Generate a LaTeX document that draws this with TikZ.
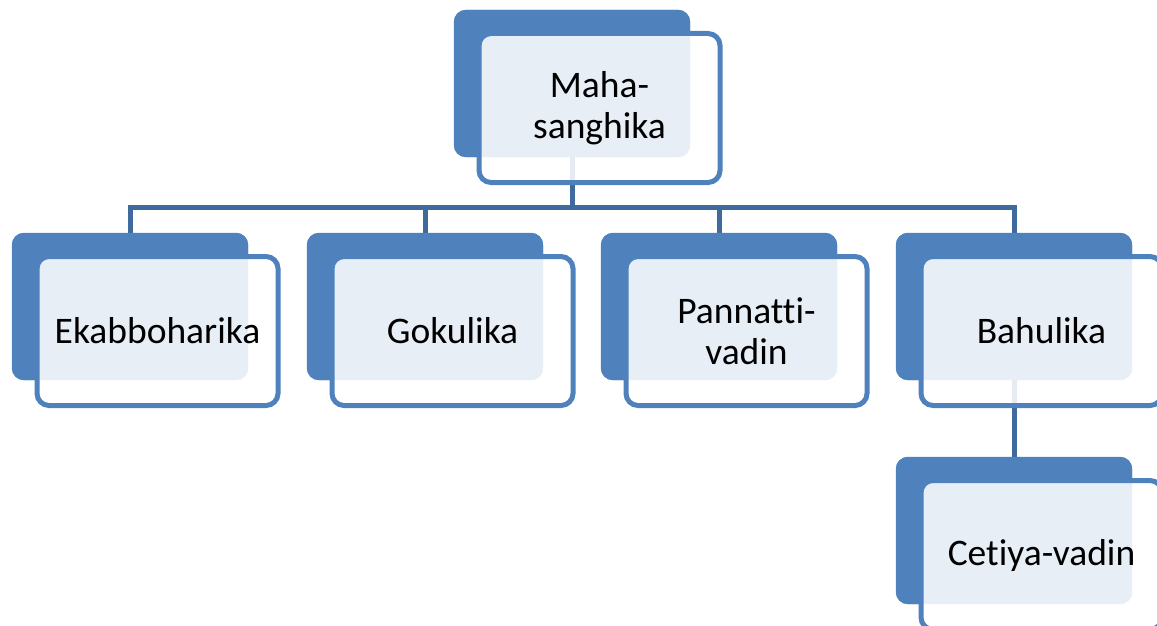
\documentclass[tikz,border=0pt]{standalone}
\usepackage{fontspec}
\setmainfont[Ligatures={NoCommon}]{Carlito}
\usetikzlibrary{calc}
\definecolor{accent}{HTML}{4F81BD}
\definecolor{connc}{HTML}{3E6A9E}
\tikzset{
  backbox/.style={rectangle, rounded corners=12pt, fill=accent, draw=none,
    minimum width=236pt, minimum height=147pt, inner sep=0pt},
  frontbox/.style={rectangle, rounded corners=12pt, draw=accent, line width=5pt,
    fill=white, fill opacity=0.87, text opacity=1,
    minimum width=241pt, minimum height=149pt, inner sep=0pt, align=center,
    font=\fontsize{37.5}{41}\selectfont},
  conn/.style={draw=connc, line width=5pt}
}
\begin{document}
\begin{tikzpicture}[x=1pt,y=-1pt]
\useasboundingbox (0,0) rectangle (1157,626);
\clip (0,0) rectangle (1157,626);
\fill[white] (0,0) rectangle (1157,626);
% back boxes (positions)
\node[backbox] (mahab) at (572,83.5) {};
\node[backbox] (ekab) at (130,306.5) {};
\node[backbox] (gokb) at (425,306.5) {};
\node[backbox] (panb) at (719,306.5) {};
\node[backbox] (bahb) at (1014,306.5) {};
\node[backbox] (cetb) at (1014,530.5) {};
\coordinate (bar) at (0,207);
% connectors
\draw[conn] (mahab.center) -- (mahab.center |- bar);
\draw[conn] (ekab.north) -- (ekab.north |- bar) -- (bahb.north |- bar) -- (bahb.north);
\draw[conn] (gokb.north) -- (gokb.north |- bar);
\draw[conn] (panb.north) -- (panb.north |- bar);
\draw[conn] (bahb.center) -- (cetb.north);
% redraw back boxes over connectors
\foreach \n in {mahab,ekab,gokb,panb,bahb,cetb}{
  \fill[accent, rounded corners=12pt] (\n.north west) rectangle (\n.south east);
}
% front boxes
\node[frontbox] (maha) at ($(mahab.center)+(27.5,24.5)$) {Maha-\\sanghika};
\node[frontbox] (eka) at ($(ekab.center)+(27.5,24.5)$) {Ekabboharika};
\node[frontbox] (gok) at ($(gokb.center)+(27.5,24.5)$) {Gokulika};
\node[frontbox] (pan) at ($(panb.center)+(27.5,24.5)$) {Pannatti-\\vadin};
\node[frontbox] (bah) at ($(bahb.center)+(27.5,24.5)$) {Bahulika};
\node[frontbox] (cet) at ($(cetb.center)+(27.5,24.5)$) {Cetiya-vadin};
\end{tikzpicture}
\end{document}
